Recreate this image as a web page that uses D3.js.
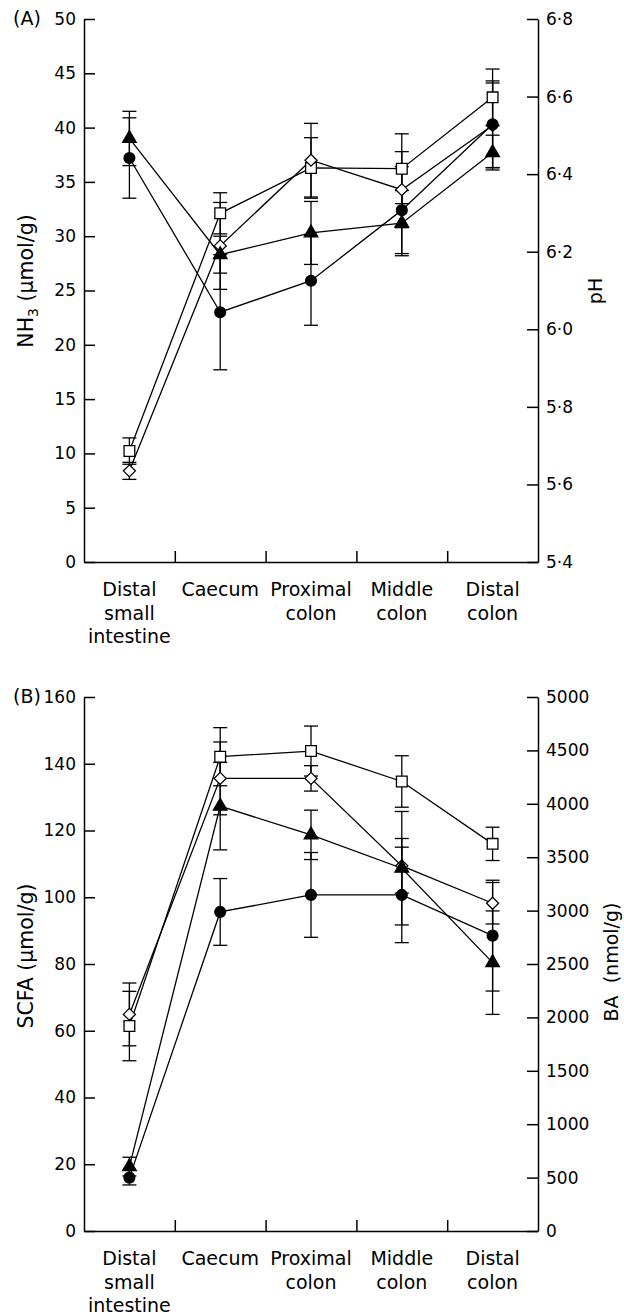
<!DOCTYPE html>
<html>
<head>
<meta charset="utf-8">
<script src="https://cdn.jsdelivr.net/npm/d3@7"></script>
<style>
  body { margin: 0; background: #fff; }
  svg { display: block; }
</style>
</head>
<body>
<script>
// Data
const categories = ["Distal small intestine", "Caecum", "Proximal colon", "Middle colon", "Distal colon"];
const categoryLines = [["Distal", "small", "intestine"], ["Caecum"], ["Proximal", "colon"], ["Middle", "colon"], ["Distal", "colon"]];

// Panel A: NH3 (umol/g), filled symbols
const nh3Circle = [37.2, 23.0, 25.9, 32.4, 40.3];
const nh3CircleErr = [3.7, 5.3, 4.1, 4.0, 4.0];
const nh3Triangle = [39.0, 28.3, 30.3, 31.2, 37.7];
const nh3TriangleErr = [2.5, 1.7, 2.9, 3.0, 1.6];
// Panel A: pH, open symbols
const phSquare = [5.686, 6.299, 6.416, 6.414, 6.598];
const phSquareErr = [0.034, 0.053, 0.078, 0.090, 0.073];
const phDiamond = [5.635, 6.215, 6.436, 6.360, 6.526];
const phDiamondErr = [0.022, 0.112, 0.095, 0.098, 0.109];

// Panel B: SCFA (umol/g), filled symbols
const scfaCircle = [16.0, 95.6, 100.7, 100.7, 88.5];
const scfaCircleErr = [2.2, 10.0, 12.7, 14.3, 16.6];
const scfaTriangle = [19.3, 127.3, 118.7, 108.7, 80.4];
const scfaTriangleErr = [2.8, 13.1, 7.4, 17.0, 15.5];
// Panel B: BA (nmol/g), open symbols
const baSquare = [1919, 4441, 4494, 4209, 3625];
const baSquareErr = [325, 272, 234, 241, 156];
const baDiamond = [2028, 4238, 4238, 3419, 3069];
const baDiamondErr = [294, 341, 119, 256, 194];

// Tick values
const nh3Ticks = d3.range(0, 51, 5);
const phTicks = [5.4, 5.6, 5.8, 6.0, 6.2, 6.4, 6.6, 6.8];
const scfaTicks = d3.range(0, 161, 20);
const baTicks = d3.range(0, 5001, 500);

// Layout
const w = 624;
const h = 1315;
const xLeft = 84;
const xRight = 538;
const tickFont = "DejaVu Sans";
const labelFont = "DejaVu Sans";

const svg = d3.select("body")
    .append("svg")
    .attr("width", w)
    .attr("height", h);

svg.append("rect").attr("width", w).attr("height", h).attr("fill", "#fff");

const x = d3.scaleBand().domain(categories).range([xLeft, xRight]);
const xc = (i) => x(categories[i]) + x.bandwidth() / 2;
const xDiv = d3.scaleLinear().domain([0, 5]).range([xLeft, xRight]);

function styleAxis(g) {
    g.selectAll(".domain").attr("stroke", "#000").attr("stroke-width", 1.5);
    g.selectAll(".tick line").attr("stroke", "#000").attr("stroke-width", 1.5);
    g.selectAll(".tick text")
        .attr("fill", "#000")
        .attr("font-family", tickFont)
        .attr("font-size", "17px");
}

function drawPanel(cfg) {
    const g = svg.append("g");
    const yL = d3.scaleLinear().domain(cfg.leftDomain).range([cfg.bottom, cfg.top]);
    const yR = d3.scaleLinear().domain(cfg.rightDomain).range([cfg.bottom, cfg.top]);

    // x axis with division ticks
    g.append("g")
        .attr("transform", `translate(0,${cfg.bottom})`)
        .call(d3.axisBottom(xDiv).tickValues([1, 2, 3, 4]).tickFormat("")
            .tickSizeInner(-11).tickSizeOuter(0))
        .call(styleAxis);

    // left axis
    g.append("g")
        .attr("transform", `translate(${xLeft},0)`)
        .call(d3.axisLeft(yL).tickValues(cfg.leftTicks).tickSizeInner(-11).tickSizeOuter(0).tickPadding(8))
        .call(styleAxis);

    // right axis
    g.append("g")
        .attr("transform", `translate(${xRight},0)`)
        .call(d3.axisRight(yR).tickValues(cfg.rightTicks).tickFormat(cfg.rightFormat)
            .tickSizeInner(-11).tickSizeOuter(0).tickPadding(8))
        .call(styleAxis);

    // category labels
    categoryLines.forEach((lines, i) => {
        const t = g.append("text")
            .attr("x", xc(i))
            .attr("y", cfg.bottom + 34)
            .attr("text-anchor", "middle")
            .attr("font-family", labelFont)
            .attr("font-size", "19px")
            .attr("fill", "#000");
        lines.forEach((s, j) => {
            t.append("tspan").attr("x", xc(i)).attr("dy", j === 0 ? 0 : 23.5).text(s);
        });
    });

    // panel letter
    g.append("text")
        .attr("x", 13)
        .attr("y", cfg.top + 6)
        .attr("font-family", labelFont)
        .attr("font-size", "19px")
        .attr("fill", "#000")
        .text(cfg.letter);

    // axis titles
    const lt = g.append("text")
        .attr("transform", `translate(33,${cfg.leftTitleY}) rotate(-90)`)
        .attr("text-anchor", "middle")
        .attr("font-family", labelFont)
        .attr("font-size", "20.5px")
        .attr("fill", "#000");
    cfg.leftTitle(lt);

    g.append("text")
        .attr("transform", `translate(${cfg.rightTitleX},${cfg.rightTitleY}) rotate(-90)`)
        .attr("text-anchor", "middle")
        .attr("font-family", labelFont)
        .attr("font-size", "19px")
        .attr("fill", "#000")
        .attr("xml:space", "preserve")
        .text(cfg.rightTitle);

    const series = [
        { v: cfg.s1, e: cfg.e1, y: yR, type: d3.symbolSquare, size: 115, fill: "#fff" },
        { v: cfg.s2, e: cfg.e2, y: yR, type: d3.symbolDiamond2, size: 92, fill: "#fff" },
        { v: cfg.s3, e: cfg.e3, y: yL, type: d3.symbolTriangle, size: 80, fill: "#000" },
        { v: cfg.s4, e: cfg.e4, y: yL, type: d3.symbolCircle, size: 92, fill: "#000" }
    ];

    const line = (ys) => d3.line().x((d, i) => xc(i)).y((d) => ys(d));

    // lines
    series.forEach((s) => {
        g.append("path")
            .datum(s.v)
            .attr("d", line(s.y))
            .attr("fill", "none")
            .attr("stroke", "#000")
            .attr("stroke-width", 1.3);
    });

    // error bars
    series.forEach((s) => {
        const eb = g.append("g").attr("stroke", "#000").attr("stroke-width", 1.3);
        s.v.forEach((v, i) => {
            const y1 = s.y(v - s.e[i]);
            const y2 = s.y(v + s.e[i]);
            eb.append("line").attr("x1", xc(i)).attr("x2", xc(i)).attr("y1", y1).attr("y2", y2);
            eb.append("line").attr("x1", xc(i) - 7).attr("x2", xc(i) + 7).attr("y1", y1).attr("y2", y1);
            eb.append("line").attr("x1", xc(i) - 7).attr("x2", xc(i) + 7).attr("y1", y2).attr("y2", y2);
        });
    });

    // symbols
    series.forEach((s) => {
        g.selectAll(null)
            .data(s.v)
            .enter()
            .append("path")
            .attr("d", d3.symbol().type(s.type).size(s.size))
            .attr("transform", (d, i) => `translate(${xc(i)},${s.y(d)})`)
            .attr("fill", s.fill)
            .attr("stroke", "#000")
            .attr("stroke-width", 1.3);
    });
}

const dotFmt = (d) => d.toFixed(1).replace(".", "·");

drawPanel({
    letter: "(A)",
    top: 19, bottom: 562,
    leftDomain: [0, 50], leftTicks: nh3Ticks,
    rightDomain: [5.4, 6.8], rightTicks: phTicks, rightFormat: dotFmt,
    leftTitleY: 281,
    leftTitle: (t) => {
        t.append("tspan").text("NH");
        t.append("tspan").attr("font-size", "14px").attr("dy", 5).text("3");
        t.append("tspan").attr("dy", -5).text(" (µmol/g)");
    },
    rightTitle: "pH", rightTitleX: 602, rightTitleY: 291,
    s1: phSquare, e1: phSquareErr,
    s2: phDiamond, e2: phDiamondErr,
    s3: nh3Triangle, e3: nh3TriangleErr,
    s4: nh3Circle, e4: nh3CircleErr
});

drawPanel({
    letter: "(B)",
    top: 697, bottom: 1231,
    leftDomain: [0, 160], leftTicks: scfaTicks,
    rightDomain: [0, 5000], rightTicks: baTicks, rightFormat: (d) => d,
    leftTitleY: 956,
    leftTitle: (t) => t.text("SCFA (µmol/g)"),
    rightTitle: "BA  (nmol/g)", rightTitleX: 618, rightTitleY: 962,
    s1: baSquare, e1: baSquareErr,
    s2: baDiamond, e2: baDiamondErr,
    s3: scfaTriangle, e3: scfaTriangleErr,
    s4: scfaCircle, e4: scfaCircleErr
});
</script>
</body>
</html>
